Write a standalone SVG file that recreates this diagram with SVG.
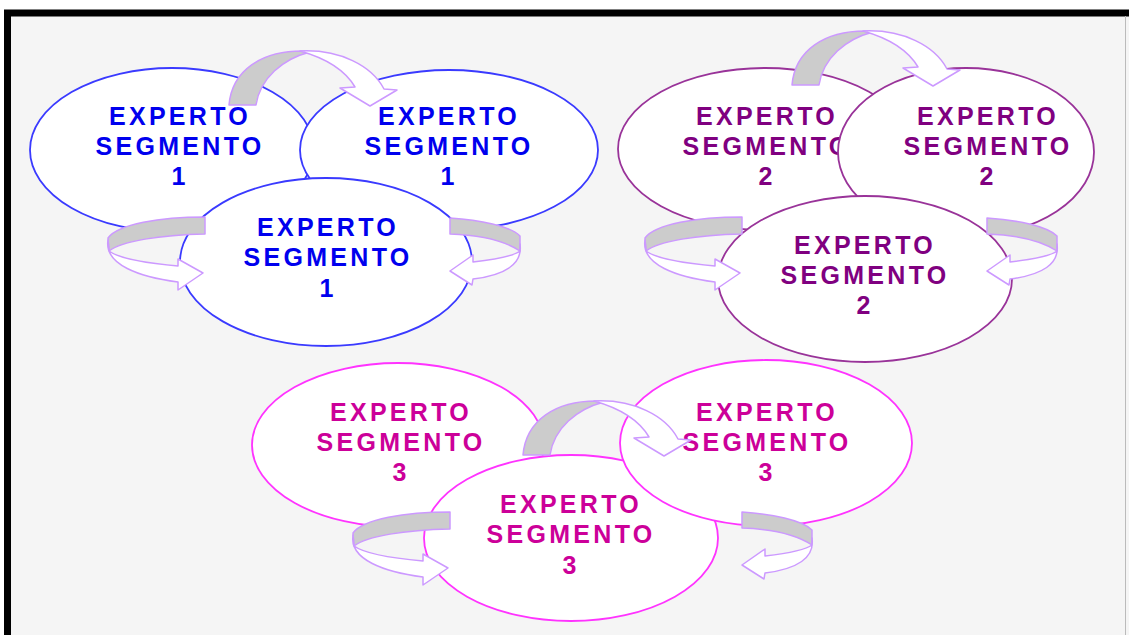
<svg xmlns="http://www.w3.org/2000/svg" xmlns:xlink="http://www.w3.org/1999/xlink" width="1129" height="635" viewBox="0 0 1129 635">
<style>
.t{font-family:"Liberation Sans",Arial,sans-serif;font-weight:bold;font-size:25px;letter-spacing:3.3px;text-anchor:middle}
.b1{fill:#fff;stroke:#3a3aff;stroke-width:1.8}
.b2{fill:#fff;stroke:#993399;stroke-width:1.8}
.b3{fill:#fff;stroke:#ff33ff;stroke-width:1.8}
.c1{fill:#0000ee}
.c2{fill:#800080}
.c3{fill:#cc0099}
.g{fill:#cccccc;stroke:#cc99ff;stroke-width:1.5;stroke-linejoin:round}
.w{fill:#ffffff;stroke:#cc99ff;stroke-width:1.5;stroke-linejoin:round}
</style>
<defs>
<g id="arch">
<path class="g" d="M229,105 C232,70 262,51 302,51 L310,52 C283,59 260,78 256,105 Z"/>
<path class="w" d="M300,51 C340,49 372,66 384,89 L397,90 L370,106 L340,88 L355,87 C345,70 325,58 300,51 Z"/>
</g>
<g id="uleft">
<path class="g" d="M205,217 C160,217 118,224 108,238 L109,251 C122,241 160,235 205,234 Z"/>
<path class="w" d="M108,240 C104,265 140,277 178,282 L178,290 L203,273 L178,259 L178,266 C145,263 120,259 109,251 Z"/>
</g>
<g id="uright">
<path class="g" d="M450,218 C480,220 510,226 520,236 L520,251 C505,241 480,235 450,234 Z"/>
<path class="w" d="M520,244 C523,264 505,275 473,279 L472,285 L450,271 L473,255 L473,262 C498,259 515,255 520,251 Z"/>
</g>
</defs>
<rect x="0" y="0" width="1129" height="635" fill="#ffffff"/>
<rect x="7.5" y="13" width="1130" height="700" fill="#f5f5f5" stroke="#000" stroke-width="7"/>
<line x1="1125.5" y1="16" x2="1125.5" y2="635" stroke="#bbbbbb" stroke-width="1"/>

<g id="e1a"><ellipse class="b1" cx="172" cy="150" rx="142" ry="82"/>
<text class="t c1" x="180" y="125">EXPERTO</text><text class="t c1" x="180" y="155">SEGMENTO</text><text class="t c1" x="180" y="185">1</text></g>
<g id="e1b"><ellipse class="b1" cx="449" cy="150" rx="149" ry="80"/>
<text class="t c1" x="449" y="125">EXPERTO</text><text class="t c1" x="449" y="155">SEGMENTO</text><text class="t c1" x="449" y="185">1</text></g>
<g id="e1c"><ellipse class="b1" cx="326" cy="262" rx="146" ry="84"/>
<text class="t c1" x="328" y="236">EXPERTO</text><text class="t c1" x="328" y="266">SEGMENTO</text><text class="t c1" x="328" y="297">1</text></g>

<g id="e2a"><ellipse class="b2" cx="765" cy="149" rx="147" ry="81"/>
<text class="t c2" x="767" y="125">EXPERTO</text><text class="t c2" x="767" y="155">SEGMENTO</text><text class="t c2" x="767" y="185">2</text></g>
<g id="e2b"><ellipse class="b2" cx="966" cy="152" rx="128" ry="84"/>
<text class="t c2" x="988" y="125">EXPERTO</text><text class="t c2" x="988" y="155">SEGMENTO</text><text class="t c2" x="988" y="185">2</text></g>
<g id="e2c"><ellipse class="b2" cx="865" cy="279" rx="147" ry="83"/>
<text class="t c2" x="865" y="254">EXPERTO</text><text class="t c2" x="865" y="284">SEGMENTO</text><text class="t c2" x="865" y="314">2</text></g>

<g id="e3a"><ellipse class="b3" cx="398" cy="445" rx="146" ry="82"/>
<text class="t c3" x="401" y="421">EXPERTO</text><text class="t c3" x="401" y="451">SEGMENTO</text><text class="t c3" x="401" y="481">3</text></g>
<g id="e3c"><ellipse class="b3" cx="571" cy="538" rx="147" ry="83"/>
<text class="t c3" x="571" y="513">EXPERTO</text><text class="t c3" x="571" y="543">SEGMENTO</text><text class="t c3" x="571" y="574">3</text></g>
<g id="e3b"><ellipse class="b3" cx="766" cy="443" rx="146" ry="83"/>
<text class="t c3" x="767" y="421">EXPERTO</text><text class="t c3" x="767" y="451">SEGMENTO</text><text class="t c3" x="767" y="481">3</text></g>

<g id="connectors">
<use xlink:href="#arch"/>
<use xlink:href="#uleft"/>
<use xlink:href="#uright"/>
<use xlink:href="#arch" transform="translate(563,-20)"/>
<use xlink:href="#uleft" transform="translate(537,0)"/>
<use xlink:href="#uright" transform="translate(537,0)"/>
<use xlink:href="#arch" transform="translate(294,350)"/>
<use xlink:href="#uleft" transform="translate(245,295)"/>
<use xlink:href="#uright" transform="translate(292,294)"/>
</g>
</svg>
